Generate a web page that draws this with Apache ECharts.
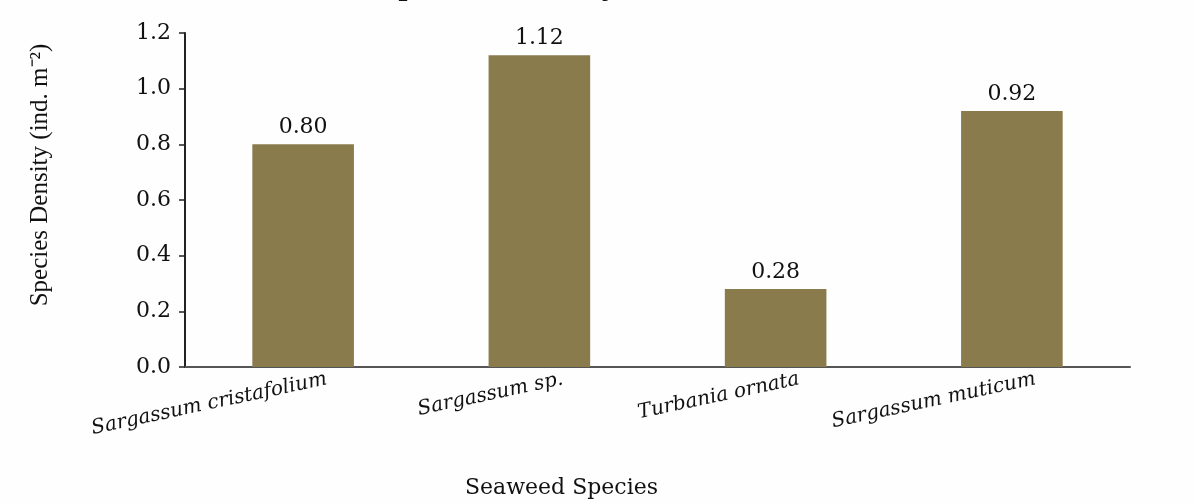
<!DOCTYPE html>
<html>
<head>
<meta charset="utf-8">
<script src="https://cdn.jsdelivr.net/npm/echarts@6/dist/echarts.min.js"></script>
<style>
html,body{margin:0;padding:0;background:#fff;}
#c{width:1194px;height:504px;}
</style>
</head>
<body>
<div id="c"></div>
<script>
const categories = ["Sargassum cristafolium", "Sargassum sp.", "Turbania ornata", "Sargassum muticum"];
const densities = [0.80, 1.12, 0.28, 0.92];
const yTicks = [0, 0.2, 0.4, 0.6, 0.8, 1.0, 1.2];
const titleText = "Species Density";
const yName = "Species Density (ind. m\u207B\u00B2)";
const xName = "Seaweed Species";

const chart = echarts.init(document.getElementById('c'));
chart.setOption({
  animation: false,
  backgroundColor: '#fefefe',
  title: {
    text: titleText,
    left: 372,
    top: -41,
    textStyle: {fontFamily: 'Liberation Serif', fontSize: 38, fontWeight: 'normal', color: '#111'}
  },
  grid: {left: 185, right: 64, top: 33, bottom: 133},
  xAxis: {
    type: 'category',
    data: categories,
    name: xName,
    nameLocation: 'middle',
    nameGap: 110,
    nameTextStyle: {fontFamily: 'DejaVu Serif', fontSize: 22, color: '#111', padding: [0, 192, 0, 0]},
    axisLine: {lineStyle: {color: '#555', width: 2}},
    axisTick: {show: false},
    axisLabel: {
      rotate: 12,
      interval: 0,
      margin: 17,
      padding: [0, -24, 0, 0],
      fontFamily: 'DejaVu Serif',
      fontStyle: 'italic',
      fontSize: 20,
      color: '#111'
    }
  },
  yAxis: {
    type: 'value',
    min: 0,
    max: 1.2,
    interval: 0.2,
    name: yName,
    nameLocation: 'middle',
    nameGap: 132,
    nameTextStyle: {fontFamily: 'Liberation Serif', fontSize: 25, color: '#111', padding: [0, 0, 0, 50]},
    axisLine: {show: true, lineStyle: {color: '#222', width: 2}},
    axisTick: {show: true, inside: false, length: 6, lineStyle: {color: '#222', width: 1.5}},
    splitLine: {show: false},
    axisLabel: {
      margin: 14,
      fontFamily: 'DejaVu Serif',
      fontSize: 22,
      color: '#111',
      formatter: v => v.toFixed(1)
    }
  },
  series: [{
    type: 'bar',
    data: densities,
    barWidth: '43%',
    itemStyle: {color: '#8a7b4c'},
    label: {
      show: true,
      position: 'top',
      distance: 6,
      fontFamily: 'DejaVu Serif',
      fontSize: 22,
      color: '#111',
      formatter: p => p.value.toFixed(2)
    }
  }]
});
</script>
</body>
</html>
